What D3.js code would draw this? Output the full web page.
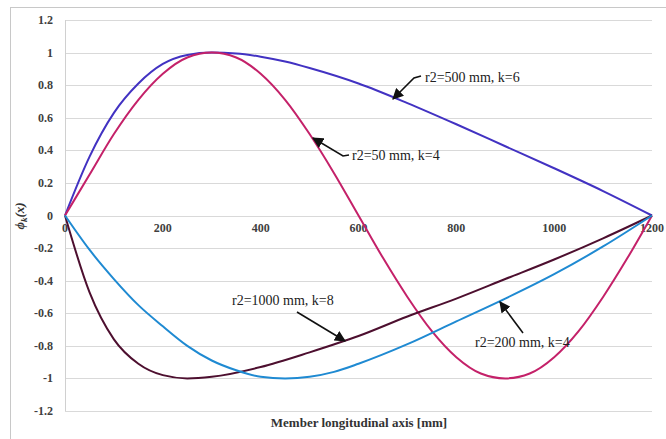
<!DOCTYPE html>
<html>
<head>
<meta charset="utf-8">
<script src="https://cdn.jsdelivr.net/npm/d3@7"></script>
<style>
  body { margin: 0; background: #fff; }
  text { font-family: "Liberation Serif", "Times New Roman", serif; }
</style>
</head>
<body>
<svg id="chart" width="666" height="439"></svg>
<script>
// x positions along member [mm]
const xs500 = [0, 50, 100, 150, 200, 250, 300, 350, 400, 450, 500, 600, 700, 800, 900, 1000, 1100, 1200];
const r2_500 = [0, 0.36, 0.63, 0.81, 0.93, 0.985, 1.0, 0.995, 0.975, 0.945, 0.905, 0.81, 0.69, 0.56, 0.425, 0.29, 0.15, 0];

const xs50 = [0, 50, 100, 150, 200, 250, 300, 350, 400, 450, 500, 550, 600, 650, 700, 750, 800, 850, 900, 950, 1000, 1050, 1100, 1150, 1200];
const r2_50 = [0, 0.25, 0.5, 0.71, 0.87, 0.97, 1.0, 0.97, 0.87, 0.71, 0.5, 0.26, 0, -0.26, -0.5, -0.71, -0.87, -0.97, -1.0, -0.97, -0.87, -0.71, -0.5, -0.26, 0];

const xs1000 = [0, 50, 100, 150, 200, 250, 300, 400, 500, 600, 700, 800, 900, 1000, 1100, 1200];
const r2_1000 = [0, -0.47, -0.76, -0.91, -0.98, -1.0, -0.99, -0.93, -0.84, -0.74, -0.62, -0.51, -0.39, -0.27, -0.14, 0];

const xs200 = [0, 50, 100, 150, 200, 250, 300, 350, 400, 450, 500, 550, 600, 700, 800, 900, 1000, 1100, 1200];
const r2_200 = [0, -0.21, -0.39, -0.55, -0.68, -0.8, -0.89, -0.95, -0.99, -1.0, -0.99, -0.96, -0.91, -0.79, -0.65, -0.51, -0.36, -0.19, 0];

const xTicks = [0, 200, 400, 600, 800, 1000, 1200];
const yTicks = [-1.2, -1, -0.8, -0.6, -0.4, -0.2, 0, 0.2, 0.4, 0.6, 0.8, 1, 1.2];

const series = [
    { name: "r2=500 mm, k=6", xs: xs500, ys: r2_500, color: "#4232c2" },
    { name: "r2=50 mm, k=4", xs: xs50, ys: r2_50, color: "#c42169" },
    { name: "r2=1000 mm, k=8", xs: xs1000, ys: r2_1000, color: "#4d0f2f" },
    { name: "r2=200 mm, k=4", xs: xs200, ys: r2_200, color: "#1f8ad2" }
];

const svg = d3.select("#chart");

// outer frame
svg.append("rect")
    .attr("x", 10.5).attr("y", 7.5)
    .attr("width", 700).attr("height", 500)
    .attr("fill", "none")
    .attr("stroke", "#c8c8c8");

const x = d3.scaleLinear([0, 1200], [65, 652]);
const y = d3.scaleLinear([-1.2, 1.2], [411, 20]);

// grid
svg.append("g")
    .selectAll("line")
    .data(yTicks)
    .enter()
    .append("line")
    .attr("x1", x(0)).attr("x2", x(1200))
    .attr("y1", d => Math.round(y(d)) + 0.5)
    .attr("y2", d => Math.round(y(d)) + 0.5)
    .attr("stroke", "#d9d9d9");

svg.append("line")
    .attr("x1", x(0) + 0.5).attr("x2", x(0) + 0.5)
    .attr("y1", y(1.2)).attr("y2", y(-1.2))
    .attr("stroke", "#d0d0d0");

// y tick labels
svg.append("g")
    .selectAll("text")
    .data(yTicks)
    .enter()
    .append("text")
    .attr("x", 53)
    .attr("y", d => y(d) + 4)
    .attr("text-anchor", "end")
    .attr("font-size", 12)
    .attr("font-weight", "bold")
    .attr("fill", "#404040")
    .text(d => d3.format("~g")(d).replace("−", "-"));

// x tick labels
svg.append("g")
    .selectAll("text")
    .data(xTicks)
    .enter()
    .append("text")
    .attr("x", d => x(d))
    .attr("y", 232)
    .attr("text-anchor", "middle")
    .attr("font-size", 12)
    .attr("font-weight", "bold")
    .attr("fill", "#404040")
    .text(d => d);

// axis titles
svg.append("text")
    .attr("x", 359).attr("y", 427)
    .attr("text-anchor", "middle")
    .attr("font-size", 13)
    .attr("font-weight", "bold")
    .attr("fill", "#333")
    .text("Member longitudinal axis [mm]");

const yt = svg.append("text")
    .attr("transform", "translate(24,216) rotate(-90)")
    .attr("text-anchor", "middle")
    .attr("font-size", 13)
    .attr("font-style", "italic")
    .attr("font-weight", "bold")
    .attr("fill", "#333");
yt.append("tspan").text("ϕ");
yt.append("tspan").attr("font-size", 9).attr("dy", 3).text("k");
yt.append("tspan").attr("dy", -3).text("(x)");

// curves
const line = d3.line()
    .x(d => x(d[0]))
    .y(d => y(d[1]))
    .curve(d3.curveMonotoneX);

svg.append("g")
    .selectAll("path")
    .data(series)
    .enter()
    .append("path")
    .attr("d", s => line(s.xs.map((v, i) => [v, s.ys[i]])))
    .attr("fill", "none")
    .attr("stroke", s => s.color)
    .attr("stroke-width", 2);

// annotations
svg.append("defs").append("marker")
    .attr("id", "arr")
    .attr("viewBox", "0 0 10 10")
    .attr("refX", 9).attr("refY", 5)
    .attr("markerWidth", 7).attr("markerHeight", 7)
    .attr("orient", "auto-start-reverse")
    .append("path")
    .attr("d", "M0,0 L10,5 L0,10 z")
    .attr("fill", "#111");

const notes = [
    { label: series[0].name, tx: 425, ty: 82, pts: [[421, 76], [414, 78], [393, 99]] },
    { label: series[1].name, tx: 352, ty: 160, pts: [[349, 155], [343, 156], [313, 138]] },
    { label: series[2].name, tx: 232, ty: 305, pts: [[297, 312], [345, 341]] },
    { label: series[3].name, tx: 475, ty: 347, pts: [[523, 333], [500, 302]] }
];

const ann = svg.append("g");
ann.selectAll("path")
    .data(notes)
    .enter()
    .append("path")
    .attr("d", d => d3.line()(d.pts))
    .attr("fill", "none")
    .attr("stroke", "#111")
    .attr("stroke-width", 1.6)
    .attr("marker-end", "url(#arr)");

ann.selectAll("text")
    .data(notes)
    .enter()
    .append("text")
    .attr("x", d => d.tx)
    .attr("y", d => d.ty)
    .attr("font-size", 14)
    .attr("fill", "#222")
    .text(d => d.label);
</script>
</body>
</html>
